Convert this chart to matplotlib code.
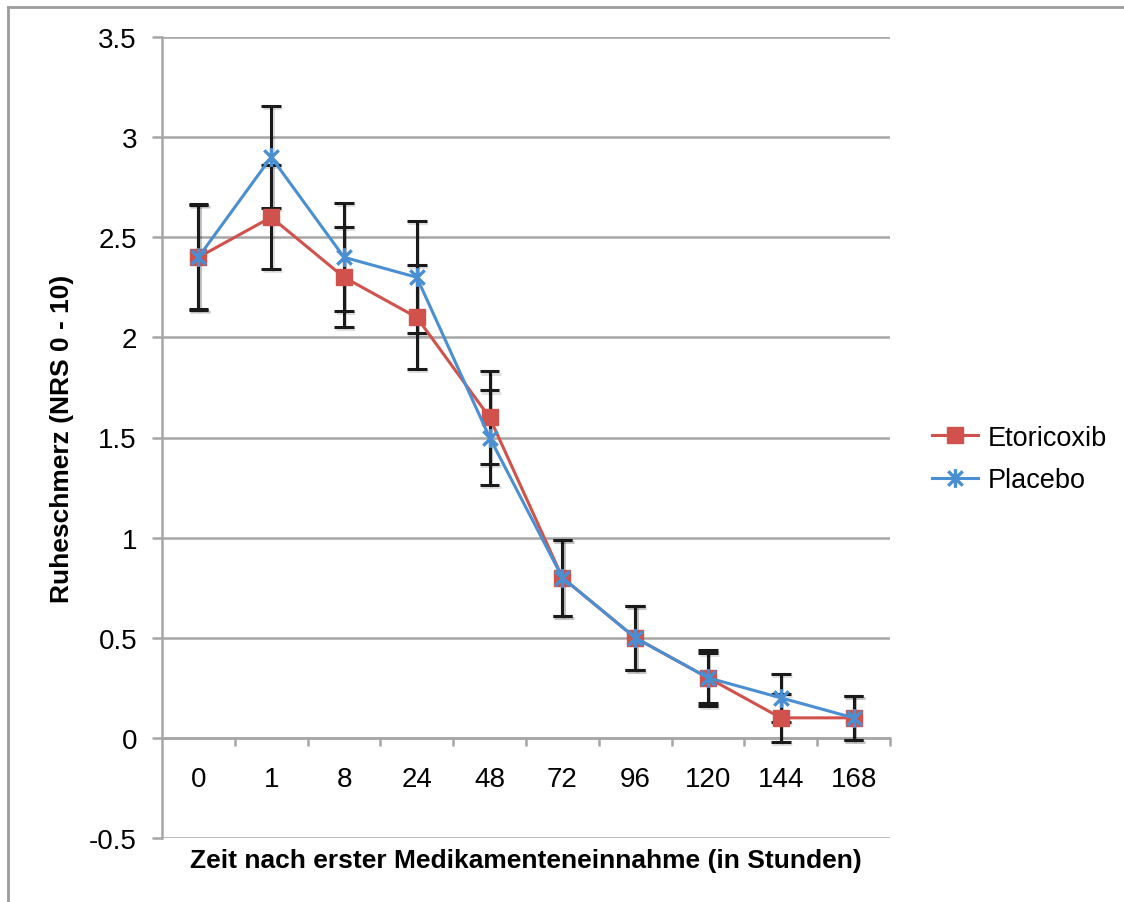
import matplotlib.pyplot as plt
import matplotlib.patheffects as pe
from matplotlib.path import Path
from matplotlib.lines import Line2D
import numpy as np

plt.rcParams['font.family'] = ['Liberation Sans', 'DejaVu Sans']

# Zeitpunkte (Stunden nach erster Einnahme)
hours = ['0', '1', '8', '24', '48', '72', '96', '120', '144', '168']

etoricoxib = [2.4, 2.6, 2.3, 2.1, 1.6, 0.8, 0.5, 0.3, 0.1, 0.1]
etoricoxib_err = [0.26, 0.26, 0.25, 0.26, 0.23, 0.19, 0.16, 0.14, 0.12, 0.11]

placebo = [2.4, 2.9, 2.4, 2.3, 1.5, 0.8, 0.5, 0.3, 0.2, 0.1]
placebo_err = [0.265, 0.255, 0.27, 0.28, 0.235, 0.19, 0.16, 0.125, 0.12, 0.11]

RED = '#d1524c'
BLUE = '#4a8fd1'
GRID = '#a6a6a6'

# Sternmarker wie in Excel: x mit senkrechtem Strich
star = Path([(-1, -1), (1, 1), (-1, 1), (1, -1), (0, -1.3), (0, 1.3)],
            [Path.MOVETO, Path.LINETO, Path.MOVETO, Path.LINETO, Path.MOVETO, Path.LINETO])

fig = plt.figure(figsize=(11.24, 9.03), dpi=100)
ax = fig.add_axes([162 / 1124, 1 - 839 / 903, 728 / 1124, 801 / 903])

x = np.arange(len(hours))
shadow = [pe.SimpleLineShadow(offset=(1, -1.5), shadow_color='k', alpha=0.12), pe.Normal()]

for vals, err in [(etoricoxib, etoricoxib_err), (placebo, placebo_err)]:
    eb = ax.errorbar(x, vals, yerr=err, fmt='none', ecolor='#1a1a1a',
                     elinewidth=2.2, capsize=7, capthick=2.2, zorder=3)
    for art in list(eb[1]) + list(eb[2]):
        art.set_path_effects(shadow)

ax.plot(x, etoricoxib, color=RED, lw=2.2, marker='s', markersize=11.5,
        markerfacecolor=RED, markeredgecolor=RED, zorder=4, label='Etoricoxib')
ax.plot(x, placebo, color=BLUE, lw=2.2, marker=star, markersize=13.5, mew=2.4,
        markeredgecolor=BLUE, fillstyle='none', zorder=5, label='Placebo')

ax.set_xlim(-0.5, len(hours) - 0.5)
ax.set_ylim(-0.5, 3.5)
ax.set_yticks(np.arange(-0.5, 3.51, 0.5))
ax.set_yticklabels(['-0.5', '0', '0.5', '1', '1.5', '2', '2.5', '3', '3.5'])
ax.yaxis.grid(True, color=GRID, lw=1.8)
ax.set_axisbelow(True)

for side in ['top', 'right']:
    ax.spines[side].set_visible(False)
ax.spines['left'].set_color(GRID)
ax.spines['left'].set_linewidth(1.8)
ax.spines['bottom'].set_position(('data', 0))
ax.spines['bottom'].set_color(GRID)
ax.spines['bottom'].set_linewidth(1.8)

# Striche zwischen den Kategorien, Beschriftung mittig
ax.set_xticks(list(np.arange(0.5, len(hours) - 0.5, 1.0)) + [len(hours) - 0.5])
ax.set_xticklabels([])
ax.set_xticks(x, minor=True)
ax.set_xticklabels(hours, minor=True)
ax.tick_params(axis='x', which='major', direction='out', length=6, width=1.8, color=GRID)
ax.tick_params(axis='x', which='minor', length=0, pad=20, labelsize=20)
ax.tick_params(axis='y', direction='out', length=7, width=1.8, color=GRID, labelsize=20, pad=11)

ax.set_xlabel('Zeit nach erster Medikamenteneinnahme (in Stunden)', fontsize=19,
              fontweight='bold', labelpad=0)
ax.xaxis.set_label_coords(0.5, -0.012, transform=ax.transAxes)
ax.xaxis.label.set_va('top')
ax.set_ylabel('Ruheschmerz (NRS 0 - 10)', fontsize=19, fontweight='bold')
ax.yaxis.set_label_coords(-0.137, 0.5)
ax.yaxis.label.set_va('center')

handles = [Line2D([], [], color=RED, lw=2.2, marker='s', markersize=11.5),
           Line2D([], [], color=BLUE, lw=2.2, marker=star, markersize=13.5, mew=2.4, fillstyle='none')]
fig.legend(handles, ['Etoricoxib', 'Placebo'], loc='center left',
           bbox_to_anchor=(908 / 1124, 1 - 460 / 903), frameon=False, fontsize=19.5,
           handlelength=1.7, handletextpad=0.35, labelspacing=0.6)

# Rahmen oben und links
fig.add_artist(Line2D([8 / 1124, 8 / 1124], [0, 1 - 8 / 903], color='#9c9c9c', lw=2))
fig.add_artist(Line2D([8 / 1124, 1], [1 - 8 / 903, 1 - 8 / 903], color='#9c9c9c', lw=2))

fig.savefig('out.png', dpi=100)
